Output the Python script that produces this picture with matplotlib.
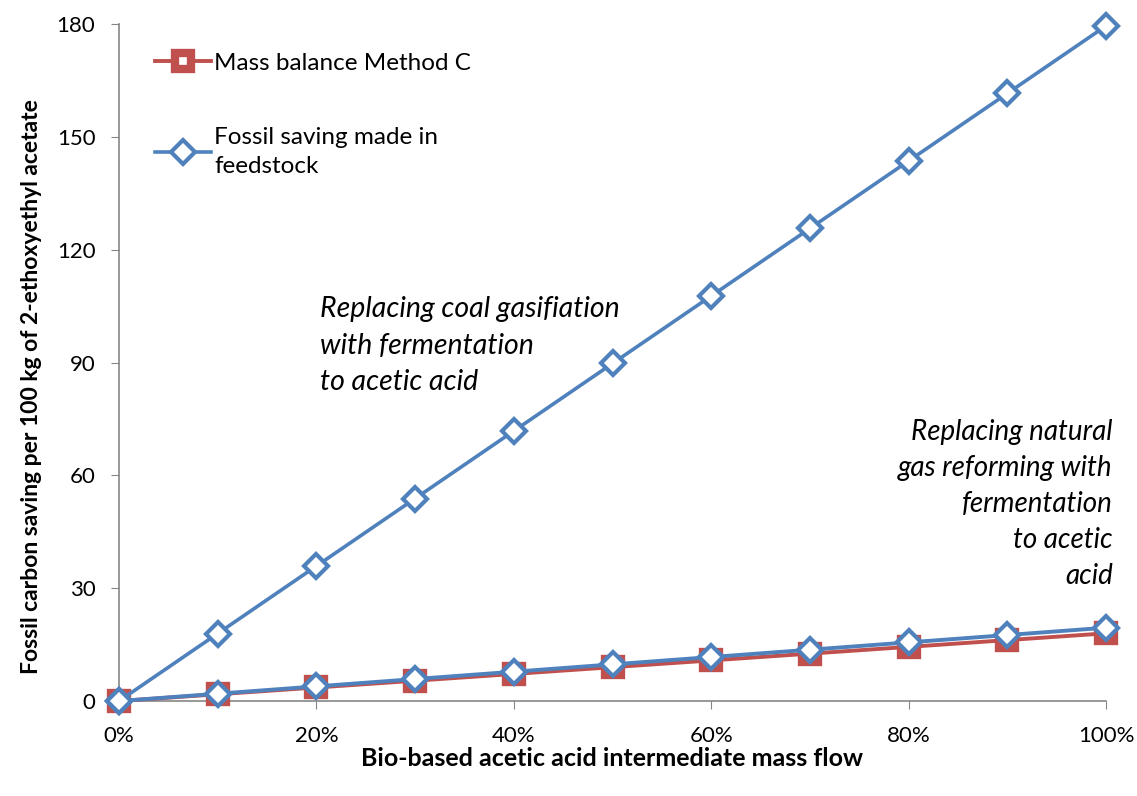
import matplotlib
matplotlib.use("Agg")
import matplotlib.pyplot as plt
from matplotlib.ticker import FuncFormatter

plt.rcParams['font.family'] = ['Lato', 'DejaVu Sans']

x_share = [0, 0.1, 0.2, 0.3, 0.4, 0.5, 0.6, 0.7, 0.8, 0.9, 1.0]
mass_balance_c = [0, 1.8, 3.6, 5.4, 7.2, 9.0, 10.8, 12.6, 14.4, 16.2, 18.0]
feedstock_coal = [0, 17.95, 35.9, 53.85, 71.8, 89.75, 107.7, 125.65, 143.6, 161.55, 179.5]
feedstock_gas = [0, 1.95, 3.9, 5.85, 7.8, 9.75, 11.7, 13.65, 15.6, 17.55, 19.5]

red = '#C0504D'
blue = '#4F81BD'

fig = plt.figure(figsize=(11.37, 7.96), dpi=100)
ax = fig.add_axes([0.1047, 0.1193, 0.868, 0.8505])

ax.plot(x_share, mass_balance_c, color=red, lw=2.8, marker='s', ms=12,
        mfc='white', mec=red, mew=6, label='Mass balance Method C', zorder=3,
        clip_on=False)
ax.plot(x_share, feedstock_coal, color=blue, lw=2.6, marker='D', ms=12,
        mfc='white', mec=blue, mew=3, label='Fossil saving made in\nfeedstock', zorder=4,
        clip_on=False)
ax.plot(x_share, feedstock_gas, color=blue, lw=2.8, marker='D', ms=12,
        mfc='white', mec=blue, mew=3, zorder=4, clip_on=False)

ax.set_xlim(0, 1.0)
ax.set_ylim(0, 180)
ax.set_xticks([0, 0.2, 0.4, 0.6, 0.8, 1.0])
ax.xaxis.set_major_formatter(FuncFormatter(lambda v, p: f'{v*100:.0f}%'))
ax.set_yticks(range(0, 181, 30))

for s in ['top', 'right']:
    ax.spines[s].set_visible(False)
for s in ['left', 'bottom']:
    ax.spines[s].set_color('#868686')
    ax.spines[s].set_linewidth(1.2)
ax.tick_params(axis='both', direction='out', length=6, color='#868686',
               labelsize=16)
ax.tick_params(axis='y', pad=11)
ax.tick_params(axis='x', pad=12)

ax.set_xlabel('Bio-based acetic acid intermediate mass flow', fontsize=18,
              fontweight='bold', labelpad=1)
ax.set_ylabel('Fossil carbon saving per 100 kg of 2-ethoxyethyl acetate',
              fontsize=16.5, fontweight='bold')
ax.yaxis.set_label_coords(-0.078, 0.465)

ax.text(0.204, 0.598, 'Replacing coal gasifiation\nwith fermentation\nto acetic acid',
        transform=ax.transAxes, fontsize=20.5, style='italic', ha='left', va='top',
        linespacing=1.5)
ax.text(1.007, 0.416, 'Replacing natural\ngas reforming with\nfermentation\nto acetic\nacid',
        transform=ax.transAxes, fontsize=20, style='italic', ha='right', va='top',
        linespacing=1.47)

leg = ax.legend(loc='upper left', bbox_to_anchor=(0.014, 0.99), frameon=False,
                fontsize=17.5, handlelength=2.3, labelspacing=2.2, handletextpad=0.15)
leg.get_texts()[1].set_linespacing(1.45)

fig.savefig('out.png', dpi=100)
